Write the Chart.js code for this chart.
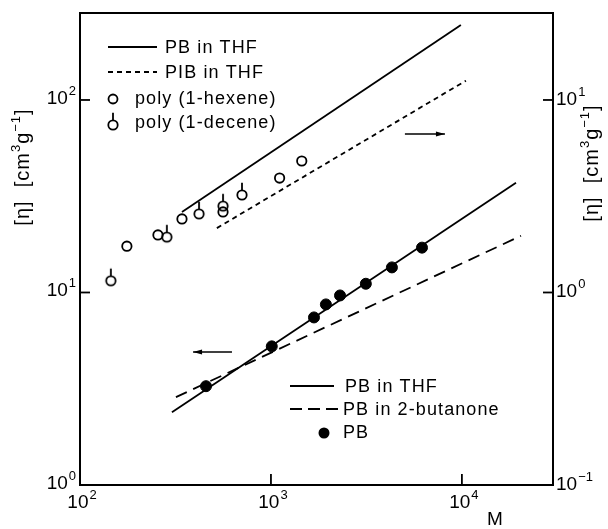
<!DOCTYPE html>
<html>
<head>
<meta charset="utf-8">
<script src="https://cdn.jsdelivr.net/npm/chart.js@4/dist/chart.umd.min.js"></script>
<style>
html,body{margin:0;padding:0;background:#fff;}
canvas{display:block;}
</style>
</head>
<body>
<canvas id="c" width="608" height="529"></canvas>
<script>
// ---- data (M in g/mol, [eta] in cm3/g) ----
// left axis series
const pbM   = [457, 1010, 1680, 1940, 2300, 3140, 4300, 6180];
const pbEta = [3.26, 5.25, 7.42, 8.67, 9.65, 11.1, 13.5, 17.1];
const pbThfLowM   = [303, 19200];
const pbThfLowEta = [2.39, 37.2];
const pbButM   = [318, 20400];
const pbButEta = [2.86, 19.7];
// right axis series
const hexeneM   = [176, 256, 342, 561, 1110, 1450];
const hexeneEta = [1.74, 1.99, 2.41, 2.62, 3.93, 4.82];
const deceneM   = [145, 285, 420, 561, 705];
const deceneEta = [1.15, 1.94, 2.56, 2.81, 3.21];
const pbThfHighM   = [342, 9880];
const pbThfHighEta = [2.62, 24.5];
const pibM   = [521, 10500];
const pibEta = [2.16, 12.6];
// ticks: value, and power-of-ten exponent used as label
const xTicks = [100, 1000, 10000];
const xTickExp = ['2', '3', '4'];
const yLeftTicks = [1, 10, 100];
const yLeftTickExp = ['0', '1', '2'];
const yRightTicks = [0.1, 1, 10];
const yRightTickExp = ['-1', '0', '1'];

const FONT = '"Liberation Sans", Arial, sans-serif';
const pts = (xs, ys) => xs.map((x, i) => ({x: x, y: ys[i]}));

// decene marker: open circle with a stem on top
function makeDecene() {
  const c = document.createElement('canvas');
  c.width = 16; c.height = 40;
  const g = c.getContext('2d');
  g.strokeStyle = '#000'; g.lineWidth = 1.8;
  g.beginPath(); g.arc(8, 20, 4.7, 0, Math.PI * 2); g.stroke();
  g.beginPath(); g.moveTo(8, 20 - 4.7); g.lineTo(8, 20 - 4.7 - 7.5); g.stroke();
  return c;
}
const deceneImg = makeDecene();

const lineDs = (label, data, axis, dash) => ({
  label, data, yAxisID: axis, showLine: true, pointRadius: 0,
  borderColor: '#000', borderWidth: 1.8, borderDash: dash || [], fill: false
});

const datasets = [
  lineDs('PB in THF', pts(pbThfLowM, pbThfLowEta), 'y'),
  lineDs('PB in 2-butanone', pts(pbButM, pbButEta), 'y', [12, 7]),
  {label: 'PB', data: pts(pbM, pbEta), yAxisID: 'y', pointStyle: 'circle',
   pointRadius: 5.5, backgroundColor: '#000', borderColor: '#000', borderWidth: 1},
  lineDs('PB in THF', pts(pbThfHighM, pbThfHighEta), 'y2'),
  lineDs('PIB in THF', pts(pibM, pibEta), 'y2', [5, 4]),
  {label: 'poly(1-hexene)', data: pts(hexeneM, hexeneEta), yAxisID: 'y2', pointStyle: 'circle',
   pointRadius: 4.7, backgroundColor: 'rgba(0,0,0,0)', borderColor: '#000', borderWidth: 1.8},
  {label: 'poly(1-decene)', data: pts(deceneM, deceneEta), yAxisID: 'y2', pointStyle: deceneImg,
   pointRadius: 5, backgroundColor: 'rgba(0,0,0,0)', borderColor: '#000'}
];

function fixedTicks(vals) { return s => { s.ticks = vals.map(v => ({value: v})); }; }

// draw "10^exp" ; align: 'center' | 'right' | 'left' ; yMid = vertical middle of the digits
function drawPow(ctx, exp, x, yMid, align) {
  const base = '10';
  ctx.font = '19px ' + FONT;
  const bw = ctx.measureText(base).width;
  ctx.font = '13px ' + FONT;
  const ew = ctx.measureText(exp.replace('-', '\u2212')).width;
  const total = bw + 1 + ew;
  let x0 = align === 'center' ? x - total / 2 + 2 : align === 'right' ? x - total : x;
  const baseline = yMid + 7;
  ctx.textAlign = 'left'; ctx.textBaseline = 'alphabetic';
  ctx.font = '19px ' + FONT;
  ctx.fillText(base, x0, baseline);
  ctx.font = '13px ' + FONT;
  ctx.fillText(exp.replace('-', '\u2212'), x0 + bw + 1, baseline - 9);
}

const extras = {
  id: 'extras',
  afterDatasetsDraw(chart) {
    const ctx = chart.ctx, a = chart.chartArea;
    const sx = chart.scales.x, sy = chart.scales.y, sy2 = chart.scales.y2;
    ctx.save();
    ctx.strokeStyle = '#000'; ctx.fillStyle = '#000';
    // top border
    ctx.lineWidth = 2;
    ctx.beginPath(); ctx.moveTo(a.left, a.top); ctx.lineTo(a.right, a.top); ctx.stroke();
    // inward tick marks
    ctx.lineWidth = 1.8;
    sx.ticks.slice(1).forEach(t => { const p = sx.getPixelForValue(t.value);
      ctx.beginPath(); ctx.moveTo(p, a.bottom); ctx.lineTo(p, a.bottom - 11); ctx.stroke(); });
    sy.ticks.slice(1).forEach(t => { const p = sy.getPixelForValue(t.value);
      ctx.beginPath(); ctx.moveTo(a.left, p); ctx.lineTo(a.left + 10, p); ctx.stroke(); });
    sy2.ticks.slice(1).forEach(t => { const p = sy2.getPixelForValue(t.value);
      ctx.beginPath(); ctx.moveTo(a.right, p); ctx.lineTo(a.right - 10, p); ctx.stroke(); });

    // tick labels with superscript exponents
    sx.ticks.forEach((t, i) => drawPow(ctx, xTickExp[i], sx.getPixelForValue(t.value), 501, 'center'));
    sy.ticks.forEach((t, i) => drawPow(ctx, yLeftTickExp[i], a.left - 4, sy.getPixelForValue(t.value) - 3, 'right'));
    sy2.ticks.forEach((t, i) => drawPow(ctx, yRightTickExp[i], a.right + 3, sy2.getPixelForValue(t.value) - 2, 'left'));

    // axis titles
    function drawYTitle(cx, cy) {
      ctx.save(); ctx.translate(cx, cy); ctx.rotate(-Math.PI / 2);
      const parts = [['[\u03B7]  [cm', 20, 0], ['3', 13, -9], ['g', 20, 0], ['\u22121', 13, -9], [']', 20, 0]];
      ctx.letterSpacing = '1px';
      let w = 0;
      parts.forEach(p => { ctx.font = p[1] + 'px ' + FONT; w += ctx.measureText(p[0]).width; });
      let x = -w / 2;
      ctx.textAlign = 'left'; ctx.textBaseline = 'alphabetic';
      parts.forEach(p => { ctx.font = p[1] + 'px ' + FONT; ctx.fillText(p[0], x, 7 + p[2]); x += ctx.measureText(p[0]).width; });
      ctx.restore();
    }
    drawYTitle(22, 167);
    drawYTitle(591, 163);
    ctx.font = '19px ' + FONT;
    ctx.textAlign = 'center'; ctx.textBaseline = 'middle';
    ctx.fillText('M', 495, 520);

    // arrows (data coordinates)
    function arrow(x1, x2, yv, scale, headLeft) {
      const p1 = sx.getPixelForValue(x1), p2 = sx.getPixelForValue(x2), py = scale.getPixelForValue(yv);
      ctx.lineWidth = 1.6;
      ctx.beginPath(); ctx.moveTo(p1, py); ctx.lineTo(p2, py); ctx.stroke();
      const tip = headLeft ? p1 : p2, d = headLeft ? 1 : -1;
      ctx.beginPath(); ctx.moveTo(tip, py); ctx.lineTo(tip + d * 9, py - 2.5);
      ctx.lineTo(tip + d * 9, py + 2.5); ctx.closePath(); ctx.fill();
    }
    arrow(5030, 8150, 6.66, sy2, false);
    arrow(391, 625, 4.91, sy, true);

    // legends
    ctx.font = '18px ' + FONT;
    ctx.letterSpacing = '1.1px';
    ctx.textAlign = 'left'; ctx.textBaseline = 'middle';
    ctx.lineWidth = 1.8;
    function legLine(x1, x2, y, dash) {
      ctx.setLineDash(dash || []);
      ctx.beginPath(); ctx.moveTo(x1, y); ctx.lineTo(x2, y); ctx.stroke();
      ctx.setLineDash([]);
    }
    // legend 1
    legLine(108, 157, 47); ctx.fillText('PB in THF', 165, 48);
    legLine(108, 157, 72, [5, 4]); ctx.fillText('PIB in THF', 165, 73);
    ctx.beginPath(); ctx.arc(113, 99, 4.5, 0, Math.PI * 2); ctx.stroke();
    ctx.fillText('poly (1-hexene)', 135, 99);
    ctx.drawImage(deceneImg, 113 - 8, 125 - 20);
    ctx.fillText('poly (1-decene)', 135, 123);
    // legend 2
    legLine(290, 334, 386); ctx.fillText('PB in THF', 345, 387);
    legLine(290, 338, 409, [12, 6]); ctx.fillText('PB in 2-butanone', 343, 410);
    ctx.beginPath(); ctx.arc(324, 433, 5.5, 0, Math.PI * 2); ctx.fill();
    ctx.fillText('PB', 343, 433);
    ctx.restore();
  }
};

new Chart(document.getElementById('c'), {
  type: 'scatter',
  data: {datasets},
  options: {
    responsive: false, animation: false, devicePixelRatio: 1,
    layout: {padding: {top: 13, left: 0, right: 0, bottom: 0}},
    plugins: {legend: {display: false}, tooltip: {enabled: false}},
    scales: {
      x: {type: 'logarithmic', position: 'bottom', min: 100, max: 30000,
          afterBuildTicks: fixedTicks(xTicks),
          ticks: {display: false},
          grid: {display: false, drawTicks: false},
          border: {display: true, color: '#000', width: 2},
          afterFit: s => { s.height = 44; }},
      y: {type: 'logarithmic', position: 'left', min: 1, max: 283,
          afterBuildTicks: fixedTicks(yLeftTicks),
          ticks: {display: false},
          grid: {display: false, drawTicks: false},
          border: {display: true, color: '#000', width: 2},
          afterFit: s => { s.width = 80; }},
      y2: {type: 'logarithmic', position: 'right', min: 0.1, max: 28.3,
          afterBuildTicks: fixedTicks(yRightTicks),
          ticks: {display: false},
          grid: {display: false, drawTicks: false},
          border: {display: true, color: '#000', width: 2},
          afterFit: s => { s.width = 55; }}
    }
  },
  plugins: [extras]
});
</script>
</body>
</html>
